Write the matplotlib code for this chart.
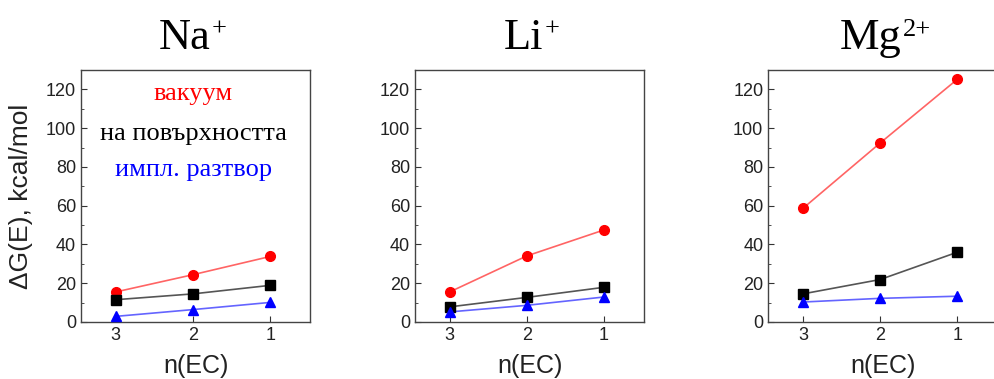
import numpy as np
import matplotlib.pyplot as plt
from matplotlib.ticker import MultipleLocator

plt.rcParams['font.family'] = ['Liberation Sans', 'DejaVu Sans']

n_ec = [3, 2, 1]
ions = ['Na', 'Li', 'Mg']
charges = ['+', '+', '2+']

# ΔG(E) in kcal/mol for each ion, order n(EC) = 3, 2, 1
vacuum = [
    [15.5, 24.4, 33.8],
    [15.5, 34.1, 47.5],
    [58.6, 92.3, 125.2],
]
surface = [
    [11.5, 14.5, 18.9],
    [7.8, 12.7, 17.9],
    [14.5, 21.9, 36.0],
]
implicit = [
    [2.9, 6.4, 10.1],
    [5.2, 8.6, 12.9],
    [10.3, 12.2, 13.3],
]

labels = ['вакуум', 'на повърхността', 'импл. разтвор']
colors = ['#ff0000', '#000000', '#0000ff']
line_colors = ['#ff6464', '#555555', '#6464ff']
markers = ['o', 's', '^']
sizes = [7, 6.5, 7.5]

fig = plt.figure(figsize=(9.95, 3.79), dpi=100)
lefts = [0.0814, 0.417, 0.772]
# centre of the element symbol, the charge hangs off to the right
title_x = [0.45, 0.475, 0.445]

for i in range(3):
    ax = fig.add_axes([lefts[i], 0.1504, 0.2305, 0.665])
    for series, c, lc, m, ms in zip([vacuum, surface, implicit], colors, line_colors, markers, sizes):
        ax.plot(n_ec, series[i], color=lc, lw=1.2, zorder=2)
        ax.plot(n_ec, series[i], ls='none', marker=m, ms=ms, color=c, zorder=3)
    ax.set_xlim(3.45, 0.48)
    ax.set_ylim(0, 130)
    ax.set_xticks(n_ec)
    ax.yaxis.set_major_locator(MultipleLocator(20))
    ax.yaxis.set_minor_locator(MultipleLocator(10))
    ax.tick_params(direction='in', which='both', top=False, right=False,
                   labelsize=13, color='#333333', labelcolor='#222222')
    ax.tick_params(which='major', length=4)
    ax.tick_params(which='minor', length=2)
    for s in ax.spines.values():
        s.set_color('#444444')
        s.set_linewidth(1.0)

    t = ax.text(title_x[i], 1.085, ions[i], fontsize=32, ha='center', va='baseline',
                transform=ax.transAxes, fontfamily='Liberation Serif')
    ax.annotate(charges[i], xy=(1.0, 0.97), xycoords=t, xytext=(1, 0),
                textcoords='offset points', fontsize=19, ha='left', va='top',
                fontfamily='Liberation Serif')

    ax.set_xlabel('n(EC)', fontsize=18, labelpad=7, color='#222222')
    if i == 0:
        ax.set_ylabel('ΔG(E), kcal/mol', fontsize=19, color='#222222')
        ax.yaxis.set_label_coords(-0.21, 0.5)
        for txt, c, y in zip(labels, colors, [0.905, 0.746, 0.603]):
            ax.text(0.49, y, txt, color=c, fontsize=19, ha='center', va='center',
                    transform=ax.transAxes, fontfamily='Liberation Serif')

fig.savefig('out.png', dpi=100)
